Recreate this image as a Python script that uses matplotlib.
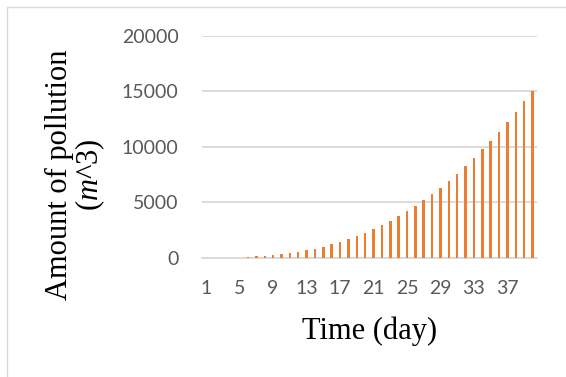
import numpy as np
import matplotlib
matplotlib.use('Agg')
import matplotlib.pyplot as plt
from matplotlib.patches import Rectangle

plt.rcParams['mathtext.fontset'] = 'custom'
plt.rcParams['mathtext.rm'] = 'Liberation Serif'
plt.rcParams['mathtext.it'] = 'Liberation Serif:italic'

# data
days = list(range(1, 41))
pollution = [0, 0, 2, 5, 10, 20, 120, 150, 240, 300,
             420, 540, 660, 810, 990, 1200, 1410, 1680, 1950, 2250,
             2590, 2950, 3340, 3760, 4210, 4690, 5200, 5740, 6280, 6920,
             7550, 8270, 9020, 9770, 10500, 11370, 12240, 13110, 14130, 15070]
yticks = [0, 5000, 10000, 15000, 20000]
xtick_days = days[::4]

fig = plt.figure(figsize=(5.66, 3.77), dpi=100)
ax = fig.add_axes([0.3569, 0.3164, 0.5913, 0.5881])

x = np.arange(len(days))
ax.bar(x, pollution, width=0.3, color='#ED7D31', zorder=3)

ax.set_xlim(-0.5, len(days) - 0.5)
ax.set_ylim(0, 20000)
ax.set_yticks(yticks)
ax.set_yticklabels([str(v) for v in yticks])
ax.set_xticks([d - 1 for d in xtick_days])
ax.set_xticklabels([str(d) for d in xtick_days])

ax.grid(axis='y', color='#d9d9d9', linewidth=1.3, zorder=0)
for s in ['top', 'right', 'left']:
    ax.spines[s].set_visible(False)
ax.spines['bottom'].set_color('#d9d9d9')
ax.spines['bottom'].set_linewidth(1.3)
ax.tick_params(axis='both', length=0, labelsize=14, labelcolor='#595959')
ax.tick_params(axis='y', pad=17)
ax.tick_params(axis='x', pad=16)
for lbl in ax.get_xticklabels() + ax.get_yticklabels():
    lbl.set_family('Lato')

fig.text(0.653, 1 - 331 / 377, 'Time (day)', ha='center', va='center',
         fontsize=22, family='Liberation Serif')
fig.text(0.134, 1 - 175 / 377, 'Amount of pollution\n($\\it{m}$^3)',
         ha='center', va='center', rotation=90, multialignment='center',
         fontsize=22, family='Liberation Serif', linespacing=0.95)

# outer chart border (only top/left visible in the crop)
fig.patches.append(Rectangle((7 / 566, -0.1), 1.2, 1 - 7 / 377 + 0.1,
                             transform=fig.transFigure, fill=False,
                             edgecolor='#d9d9d9', linewidth=1))

fig.savefig('out.png', dpi=100)
